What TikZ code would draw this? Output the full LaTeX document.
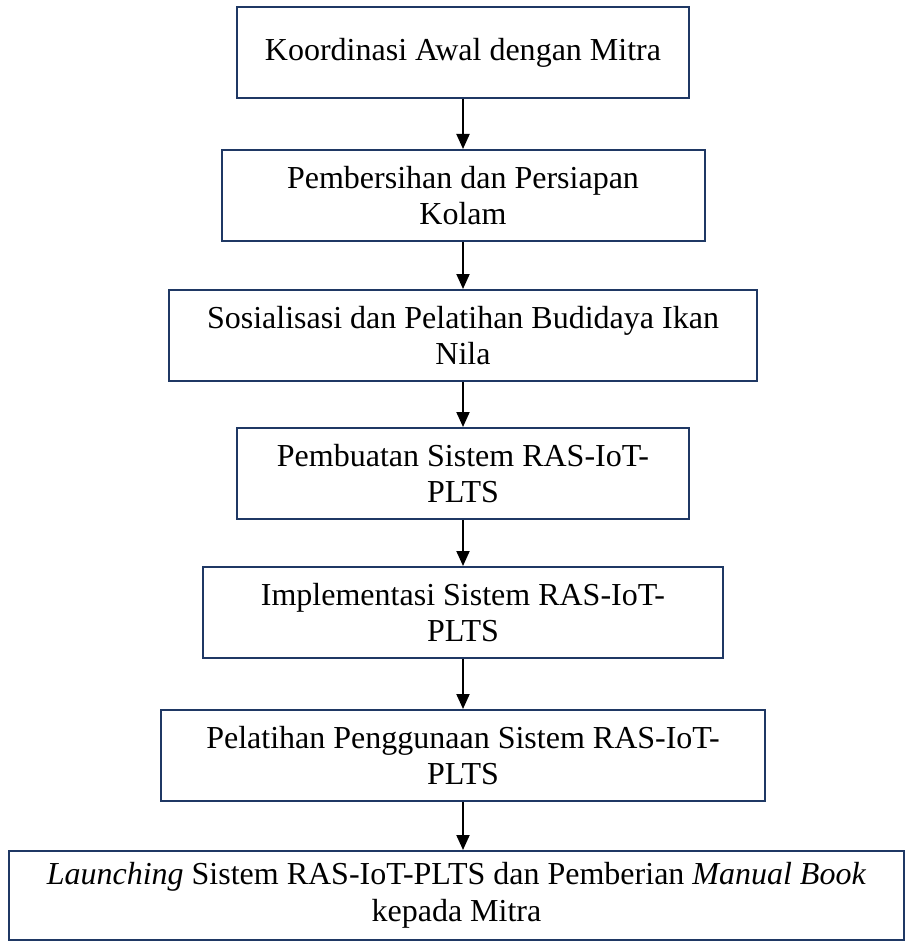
\documentclass[tikz,border=0pt]{standalone}
\usepackage{fontspec}
\setmainfont{Liberation Serif}
\usetikzlibrary{positioning,arrows.meta}
\definecolor{boxline}{RGB}{31,56,100}

\begin{document}
\begin{tikzpicture}[
    node distance=23.5pt,
    box/.style={draw=boxline, line width=1pt, align=center,
                font=\fontsize{16}{18.4}\selectfont,
                minimum height=45.5pt, inner sep=2pt},
    arr/.style={-{Triangle[length=7.5pt,width=6.5pt]}, line width=1pt}
  ]
    \useasboundingbox (0,0) rectangle (453.5pt,-470.5pt);
    \node[box, minimum width=226pt] (koord) at (231.5pt,-26.25pt)
      {Koordinasi Awal dengan Mitra};
    \node[box, below=25pt of koord, minimum width=241.5pt] (bersih)
      {Pembersihan dan Persiapan\\Kolam};
    \node[box, below=of bersih, minimum width=294pt] (sosial)
      {Sosialisasi dan Pelatihan Budidaya Ikan\\Nila};
    \node[box, below=22.5pt of sosial, minimum width=226pt] (buat)
      {Pembuatan Sistem RAS-IoT-\\PLTS};
    \node[box, below=23pt of buat, minimum width=260pt] (impl)
      {Implementasi Sistem RAS-IoT-\\PLTS};
    \node[box, below=25pt of impl, minimum width=302pt] (latih)
      {Pelatihan Penggunaan Sistem RAS-IoT-\\PLTS};
    \node[box, below=24pt of latih, xshift=-3.25pt, minimum width=447.5pt,
          minimum height=44.5pt] (launch)
      {\textit{Launching} Sistem RAS-IoT-PLTS dan Pemberian \textit{Manual Book}\\kepada Mitra};
    \draw[arr] (koord) -- (bersih);
    \draw[arr] (bersih) -- (sosial);
    \draw[arr] (sosial) -- (buat);
    \draw[arr] (buat) -- (impl);
    \draw[arr] (impl) -- (latih);
    \draw[arr] (latih.south) -- (latih.south |- launch.north);
  \end{tikzpicture}
\end{document}
